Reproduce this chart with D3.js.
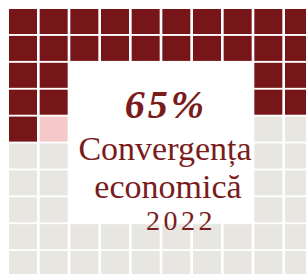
<!DOCTYPE html>
<html>
<head>
<meta charset="utf-8">
<script src="https://cdn.jsdelivr.net/npm/d3@7"></script>
<style>
  body { margin: 0; background: #fff; }
  svg { display: block; }
  .label { fill: #7a1b1c; font-family: "Liberation Serif", "DejaVu Serif", serif; text-anchor: middle; }
</style>
</head>
<body>
<div id="chart"></div>
<script>
// waffle value and per-cell state (d = share, p = partial, g = rest)
const value = 65
const year = "2022"
const title = ["Convergența", "economică"]
const rows = [0, 1, 2, 3, 4, 5, 6, 7, 8, 9]
const cols = [0, 1, 2, 3, 4, 5, 6, 7, 8, 9]
const cellStates = [
    "dddddddddd",
    "dddddddddd",
    "dddddddddd",
    "dddddddddd",
    "dpddddddgg",
    "ggddddddgg",
    "ggddddddgg",
    "ggddddddgg",
    "gggggggggg",
    "gggggggggg"
]
// inner hole where the label sits (first / last column and row index)
const holeCols = [2, 7]
const holeRows = [2, 7]

const colors = {"d": "#761618", "p": "#f5c9ca", "g": "#e7e6e1"}

const width = 306
const height = 274

const svg = d3.select("#chart").append("svg")
    .attr("width", width)
    .attr("height", height)

const xScale = d3.scaleBand()
    .domain(cols)
    .range([9, 313])
    .paddingInner(0.087)

const yScale = d3.scaleBand()
    .domain(rows)
    .range([9, 276.1])
    .paddingInner(0.07)

let cells = []
rows.forEach(r => cols.forEach(c => cells.push({row: r, col: c, state: cellStates[r][c]})))

// cells under the label are left out, the page stays white there
let inHole = d => d.col >= holeCols[0] && d.col <= holeCols[1] && d.row >= holeRows[0] && d.row <= holeRows[1]

svg.selectAll(".cell")
    .data(cells.filter(d => !inHole(d)))
    .join("rect")
    .attr("class", "cell")
    .attr("x", d => xScale(d.col))
    .attr("y", d => yScale(d.row))
    .attr("width", xScale.bandwidth())
    .attr("height", yScale.bandwidth())
    .style("fill", d => colors[d.state])

svg.append("text")
    .attr("class", "label")
    .attr("x", 166)
    .attr("y", 118)
    .style("font-size", "40px")
    .style("font-weight", "bold")
    .style("font-style", "italic")
    .style("letter-spacing", "3px")
    .text(value + "%")

svg.append("text")
    .attr("class", "label")
    .attr("x", 165)
    .attr("y", 160)
    .style("font-size", "34px")
    .text(title[0])

svg.append("text")
    .attr("class", "label")
    .attr("x", 168)
    .attr("y", 198)
    .style("font-size", "34px")
    .text(title[1])

svg.append("text")
    .attr("class", "label")
    .attr("x", 181)
    .attr("y", 230)
    .style("font-size", "28px")
    .style("letter-spacing", "3.5px")
    .text(year)
</script>
</body>
</html>
